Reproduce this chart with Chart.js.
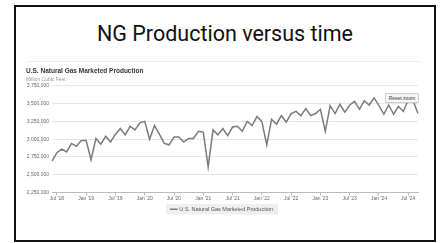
<!DOCTYPE html>
<html>
<head>
<meta charset="utf-8">
<script src="https://cdn.jsdelivr.net/npm/chart.js@4"></script>
<style>
  html, body { margin: 0; padding: 0; background: #fff; }
  body { width: 443px; height: 243px; position: relative; overflow: hidden; }
  #frame {
    position: absolute; left: 14px; top: 5px; width: 418px; height: 233px;
    border: 2px solid #111; background: #fff;
  }
  #titulo {
    position: absolute; left: 0; top: 14px; width: 100%; text-align: center;
    font-family: Roboto, sans-serif; font-size: 21.5px; color: #111; margin: 0; font-weight: 400;
  }
  #sep { position: absolute; left: 10px; top: 54px; width: 396px; height: 1px; background: #ececec; }
  #grafico { position: absolute; left: 10px; top: 56px; }
  #reset {
    position: absolute; left: 369px; top: 86px; width: 32px; height: 8px;
    border: 1px solid #ccc; background: #f7f7f7; border-radius: 1px;
    font-family: 'Liberation Sans', sans-serif; font-size: 5px; line-height: 8px;
    text-align: center; color: #333;
  }
</style>
</head>
<body>
<div id="frame">
  <p id="titulo">NG Production versus time</p>
  <div id="sep"></div>
  <canvas id="grafico" width="404" height="162"></canvas>
  <div id="reset">Reset zoom</div>
</div>
<script>
// meses (jun 2018 - set 2024)
const meses = [
  '2018-06','2018-07','2018-08','2018-09','2018-10','2018-11','2018-12',
  '2019-01','2019-02','2019-03','2019-04','2019-05','2019-06','2019-07','2019-08','2019-09','2019-10','2019-11','2019-12',
  '2020-01','2020-02','2020-03','2020-04','2020-05','2020-06','2020-07','2020-08','2020-09','2020-10','2020-11','2020-12',
  '2021-01','2021-02','2021-03','2021-04','2021-05','2021-06','2021-07','2021-08','2021-09','2021-10','2021-11','2021-12',
  '2022-01','2022-02','2022-03','2022-04','2022-05','2022-06','2022-07','2022-08','2022-09','2022-10','2022-11','2022-12',
  '2023-01','2023-02','2023-03','2023-04','2023-05','2023-06','2023-07','2023-08','2023-09','2023-10','2023-11','2023-12',
  '2024-01','2024-02','2024-03','2024-04','2024-05','2024-06','2024-07','2024-08','2024-09'
];

// Million Cubic Feet
const producao = [
  2690000, 2810000, 2860000, 2820000, 2940000, 2900000, 2980000,
  2980000, 2710000, 3010000, 2930000, 3040000, 2960000, 3070000, 3150000, 3060000, 3180000, 3130000, 3230000,
  3250000, 3000000, 3190000, 3070000, 2940000, 2920000, 3030000, 3030000, 2960000, 3010000, 3010000, 3110000,
  3100000, 2610000, 3130000, 3060000, 3150000, 3050000, 3170000, 3180000, 3110000, 3250000, 3190000, 3320000,
  3250000, 2920000, 3280000, 3210000, 3330000, 3240000, 3360000, 3390000, 3330000, 3430000, 3330000, 3360000,
  3420000, 3110000, 3470000, 3360000, 3490000, 3380000, 3480000, 3530000, 3420000, 3540000, 3480000, 3580000,
  3470000, 3350000, 3480000, 3350000, 3460000, 3390000, 3550000, 3540000, 3360000
];

const tickMeses = ['2018-07','2019-01','2019-07','2020-01','2020-07','2021-01','2021-07',
  '2022-01','2022-07','2023-01','2023-07','2024-01','2024-07'];
const tickLabels = ["Jul '18","Jan '19","Jul '19","Jan '20","Jul '20","Jan '21","Jul '21",
  "Jan '22","Jul '22","Jan '23","Jul '23","Jan '24","Jul '24"];

const yTicks = [2250000, 2500000, 2750000, 3000000, 3250000, 3500000, 3750000];

const fonte = "'Liberation Sans', Arial, sans-serif";

// fundo cinza atras da legenda
const fundoLegenda = {
    id: 'fundoLegenda',
    beforeDraw(chart) {
        const box = chart.legend && chart.legend.legendHitBoxes && chart.legend.legendHitBoxes[0];
        if (!box) return;
        const ctx = chart.ctx;
        ctx.save();
        ctx.fillStyle = '#efefef';
        ctx.fillRect(box.left - 5, box.top - 2.5, box.width + 10, box.height + 5);
        ctx.restore();
    }
};

const ctx = document.getElementById('grafico').getContext('2d');
new Chart(ctx, {
    type: 'line',
    data: {
        labels: meses,
        datasets: [{
            label: 'U.S. Natural Gas Marketed Production',
            data: producao,
            borderColor: '#7b7b7b',
            backgroundColor: '#7b7b7b',
            borderWidth: 1.5,
            pointRadius: 0,
            tension: 0,
            fill: false
        }]
    },
    options: {
        responsive: false,
        animation: false,
        devicePixelRatio: 1,
        layout: { padding: { left: 0, right: 12, top: 0, bottom: 3 } },
        plugins: {
            title: {
                display: true,
                text: 'U.S. Natural Gas Marketed Production',
                align: 'start',
                color: '#333',
                font: { family: fonte, size: 6.5, weight: 'bold' },
                padding: { top: 4, bottom: 2 }
            },
            subtitle: {
                display: true,
                text: 'Million Cubic Feet',
                align: 'start',
                color: '#999',
                font: { family: fonte, size: 5 },
                padding: { top: 0, bottom: 3 }
            },
            legend: {
                position: 'bottom',
                labels: {
                    usePointStyle: true,
                    pointStyle: 'line',
                    boxWidth: 8,
                    boxHeight: 6,
                    color: '#555',
                    font: { family: fonte, size: 5.5 },
                    padding: 5
                }
            },
            tooltip: { enabled: false }
        },
        scales: {
            x: {
                offset: false,
                ticks: {
                    autoSkip: false,
                    maxRotation: 0,
                    minRotation: 0,
                    padding: 0,
                    color: '#666',
                    font: { family: fonte, size: 5 },
                    callback: (val, i) => {
                        const k = tickMeses.indexOf(meses[i]);
                        return k >= 0 ? tickLabels[k] : '';
                    }
                },
                grid: {
                    drawOnChartArea: false,
                    drawTicks: true,
                    tickLength: 3,
                    color: c => (c.tick && tickMeses.indexOf(meses[c.index]) >= 0) ? '#bbb' : 'rgba(0,0,0,0)'
                },
                border: { display: true, color: '#bbb' }
            },
            y: {
                min: 2250000,
                max: 3750000,
                afterBuildTicks: axis => { axis.ticks = yTicks.map(v => ({ value: v })); },
                afterFit: axis => { axis.width = 26; },
                ticks: {
                    color: '#666',
                    padding: 3,
                    font: { family: fonte, size: 5 },
                    callback: v => v.toLocaleString('en-US')
                },
                grid: { color: '#e6e6e6', drawTicks: false, lineWidth: 1 },
                border: { display: false }
            }
        }
    },
    plugins: [fundoLegenda]
});
</script>
</body>
</html>
